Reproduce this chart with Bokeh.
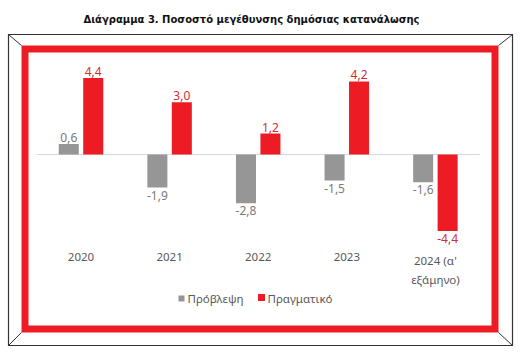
from bokeh.plotting import figure
from bokeh.models import Range1d, ColumnDataSource
from bokeh.core.properties import value
from bokeh.embed import file_html
from bokeh.resources import INLINE

# ---------------- data ----------------
categories = ["2020", "2021", "2022", "2023", "2024 (α'\nεξάμηνο)"]
forecast = [0.6, -1.9, -2.8, -1.5, -1.6]      # Πρόβλεψη
actual = [4.4, 3.0, 1.2, 4.2, -4.4]          # Πραγματικό
series_names = ["Πρόβλεψη", "Πραγματικό"]
title_text = "Διάγραμμα 3. Ποσοστό μεγέθυνσης δημόσιας κατανάλωσης"

# ---------------- styles ----------------
W, H = 525, 355
GRAY = "#969696"
RED = "#ED1C24"
GRAY_LBL = "#7a7a7a"
RED_LBL = "#CC2F35"
AXIS_LBL = "#595959"
FONT = "Noto Sans"

# pixel geometry of the plot scale
PX0, PXSTEP = 80.5, 88.6     # x pixel of first category centre, spacing
PY0, PYUNIT = 154.0, 17.4    # y pixel of zero, pixels per unit

def X(px):
    return (px - PX0) / PXSTEP

def Y(py):
    return (PY0 - py) / PYUNIT

p = figure(width=W, height=H, output_backend="svg", toolbar_location=None,
           x_range=Range1d(X(0), X(W)), y_range=Range1d(Y(H), Y(0)),
           min_border=0, min_border_left=0, min_border_right=0,
           min_border_top=0, min_border_bottom=0)
p.axis.visible = False
p.grid.visible = False
p.outline_line_color = None
p.background_fill_color = "white"
p.border_fill_color = "white"

# ---------------- frame decoration ----------------
bx0, by0, bx1, by1 = 8, 34, 512, 345
rx0, ry0, rx1, ry1 = 21, 45, 498, 332
t = 7
p.quad(left=[X(bx0)], right=[X(bx1)], top=[Y(by0)], bottom=[Y(by1)],
       fill_alpha=0, line_color="#333333", line_width=1.2)
p.multi_line(xs=[[X(bx0), X(rx0)], [X(bx1), X(rx1)], [X(bx0), X(rx0)], [X(bx1), X(rx1)]],
             ys=[[Y(by0), Y(ry0)], [Y(by0), Y(ry0)], [Y(by1), Y(ry1)], [Y(by1), Y(ry1)]],
             line_color="#333333", line_width=1)
p.quad(left=[X(rx0 + t / 2)], right=[X(rx1 - t / 2)], top=[Y(ry0 + t / 2)],
       bottom=[Y(ry1 - t / 2)], fill_alpha=0, line_color=RED, line_width=t,
       line_join="miter")

# title
p.text(x=[X(251)], y=[Y(19)], text=[title_text], text_font=value("DejaVu Sans"),
       text_font_style="bold", text_font_size="10px", text_color="#111111",
       text_align="center", text_baseline="middle")

# ---------------- bars ----------------
n = len(categories)
idx = list(range(n))
off, bw = 0.138, 0.226
src = ColumnDataSource(dict(
    xg=[i - off for i in idx], xr=[i + off for i in idx],
    fc=forecast, ac=actual,
    fl=[f"{v:.1f}".replace(".", ",") for v in forecast],
    al=[f"{v:.1f}".replace(".", ",") for v in actual],
))

# zero line
p.segment(x0=[-0.5], x1=[n - 0.5], y0=[0], y1=[0], line_color="#d9d9d9", line_width=1)

p.vbar(x="xg", top="fc", bottom=0, width=bw, source=src, fill_color=GRAY, line_color=None)
p.vbar(x="xr", top="ac", bottom=0, width=bw, source=src, fill_color=RED, line_color=None)

# value labels
def add_labels(xs, vals, labels, color):
    pos = [k for k, v in enumerate(vals) if v >= 0]
    neg = [k for k, v in enumerate(vals) if v < 0]
    if pos:
        p.text(x=[xs[k] for k in pos], y=[vals[k] for k in pos], text=[labels[k] for k in pos],
               text_font=value(FONT), text_font_size="12px", text_color=color,
               text_align="center", text_baseline="bottom", y_offset=-2)
    if neg:
        p.text(x=[xs[k] for k in neg], y=[vals[k] for k in neg], text=[labels[k] for k in neg],
               text_font=value(FONT), text_font_size="12px", text_color=color,
               text_align="center", text_baseline="top", y_offset=3)

add_labels(src.data["xg"], forecast, src.data["fl"], GRAY_LBL)
add_labels(src.data["xr"], actual, src.data["al"], RED_LBL)

# category labels
p.text(x=idx, y=[Y(252)] * n, text=categories, text_font=value(FONT),
       text_font_size="11.5px", text_color=AXIS_LBL, text_align="center",
       text_baseline="top", text_line_height=1.3)

# ---------------- legend ----------------
p.scatter(x=[X(181)], y=[Y(298)], marker="square", size=6, fill_color=GRAY, line_color=None)
p.scatter(x=[X(261)], y=[Y(297)], marker="square", size=7, fill_color=RED, line_color=None)
p.text(x=[X(187), X(267)], y=[Y(298), Y(298)], text=series_names, text_font=value(FONT),
       text_font_size="11.5px", text_color=AXIS_LBL, text_align="left", text_baseline="middle")

open("out.html", "w").write(file_html(p, INLINE))
